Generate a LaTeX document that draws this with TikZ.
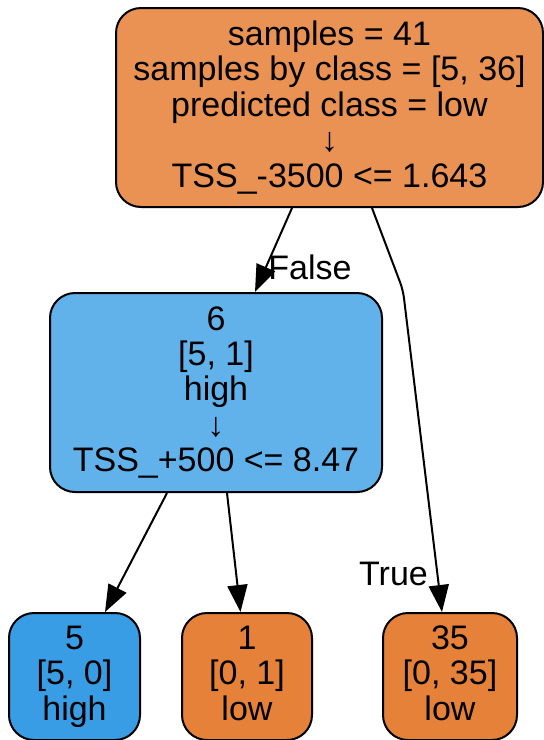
\documentclass[tikz,border=0pt]{standalone}
\usepackage{fontspec}
\setmainfont{Liberation Sans}
\usetikzlibrary{arrows.meta}
\definecolor{rootorange}{HTML}{E99254}
\definecolor{leaforange}{HTML}{E58139}
\definecolor{leafblue}{HTML}{399DE5}
\definecolor{splitblue}{HTML}{61B1EA}
\begin{document}
\begin{tikzpicture}[x=1pt, y=-1pt,
  tree/.style={draw, line width=2pt, rounded corners=25pt, align=center, inner sep=0pt, font=\fontsize{34}{35.5}\selectfont},
  edge/.style={line width=2pt, -{Triangle[length=27pt, width=20pt]}},
  elabel/.style={font=\fontsize{34}{35.5}\selectfont, anchor=base, inner sep=0pt}]
\useasboundingbox (0,0) rectangle (544,740);
\node[tree, fill=rootorange, minimum width=427pt, minimum height=199pt] (nid0) at (329.5,107.5) {samples = 41\\samples by class = [5, 36]\\predicted class = low\\↓\\TSS\_-3500 <= 1.643};
\node[tree, fill=splitblue, minimum width=332pt, minimum height=199pt] (nid1) at (216,392.5) {6\\{}[5, 1]\\high\\↓\\TSS\_+500 <= 8.47};
\node[tree, fill=leafblue, minimum width=131pt, minimum height=127pt] (nid2) at (74.5,676.5) {5\\{}[5, 0]\\high};
\node[tree, fill=leaforange, minimum width=130pt, minimum height=127pt] (nid3) at (247,676.5) {1\\{}[0, 1]\\low\vphantom{g}};
\node[tree, fill=leaforange, minimum width=134pt, minimum height=127pt] (nid4) at (450,676.5) {35\\{}[0, 35]\\low\vphantom{g}};
\coordinate (bend) at (403,290);
\draw[edge] ([xshift=-37.5pt]nid0.south) -- ([xshift=39pt]nid1.north);
\draw[edge, rounded corners=8pt] ([xshift=42.5pt]nid0.south) -- (bend) -- ([xshift=-8pt]nid4.north);
\draw[edge] ([xshift=-49pt]nid1.south) -- ([xshift=30.5pt]nid2.north);
\draw[edge] ([xshift=11pt]nid1.south) -- ([xshift=-6.5pt]nid3.north);
\node[elabel] (lfalse) at (310,279) {False};
\node[elabel] (ltrue) at (393.5,585) {True};
\end{tikzpicture}
\end{document}
